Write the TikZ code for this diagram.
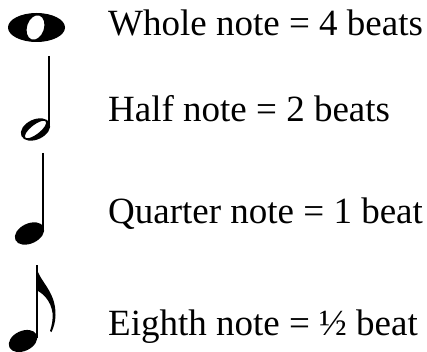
\documentclass[tikz,border=0pt]{standalone}
\usepackage{fontspec}
\setmainfont{Liberation Serif}
\usepackage{tikz}
\usetikzlibrary{positioning}
\definecolor{ink}{HTML}{000000}

\begin{document}
\begin{tikzpicture}[x=1pt,y=-1pt,
  notetext/.style={anchor=base west,inner sep=0pt,font=\fontsize{37}{44}\selectfont},
  stem/.style={draw=ink,line width=2.1pt}]
  \useasboundingbox (0,0) rectangle (427,352);
  % whole note
  \fill[ink,even odd rule] (36.5,27.5) circle [x radius=28.5,y radius=14.5]
    (35.5,27.5) circle [x radius=12.5,y radius=8.5,rotate=72];
  % half note
  \fill[ink,even odd rule] (35.5,129.5) circle [x radius=15.5,y radius=10,rotate=25]
    (35.5,129.5) circle [x radius=13,y radius=4.6,rotate=38];
  \draw[stem] (49.3,56) -- (49.3,128);
  % quarter note
  \fill[ink] (29.5,233.5) circle [x radius=15.5,y radius=10,rotate=25];
  \draw[stem] (43.3,153) -- (43.3,232);
  % eighth note
  \fill[ink] (23,341) circle [x radius=15,y radius=10,rotate=25];
  \draw[stem] (36.7,265) -- (36.7,338);
  \fill[ink] (36,265) .. controls (38,281) and (56,290) .. (55.5,315)
    .. controls (55.5,322) and (53.5,328) .. (51.5,332) -- (50,331)
    .. controls (52,325) and (53,320) .. (52.5,313)
    .. controls (51,301) and (43,293) .. (36,290) -- cycle;
  \node[notetext] (whole) at (108,36) {Whole note = 4 beats};
  \node[notetext] (half) at (108,122) {Half note = 2 beats};
  \node[notetext] (quarter) at (108,223) {Quarter note = 1 beat};
  \node[notetext] (eighth) at (108,335) {Eighth note = ½ beat};
\end{tikzpicture}
\end{document}
